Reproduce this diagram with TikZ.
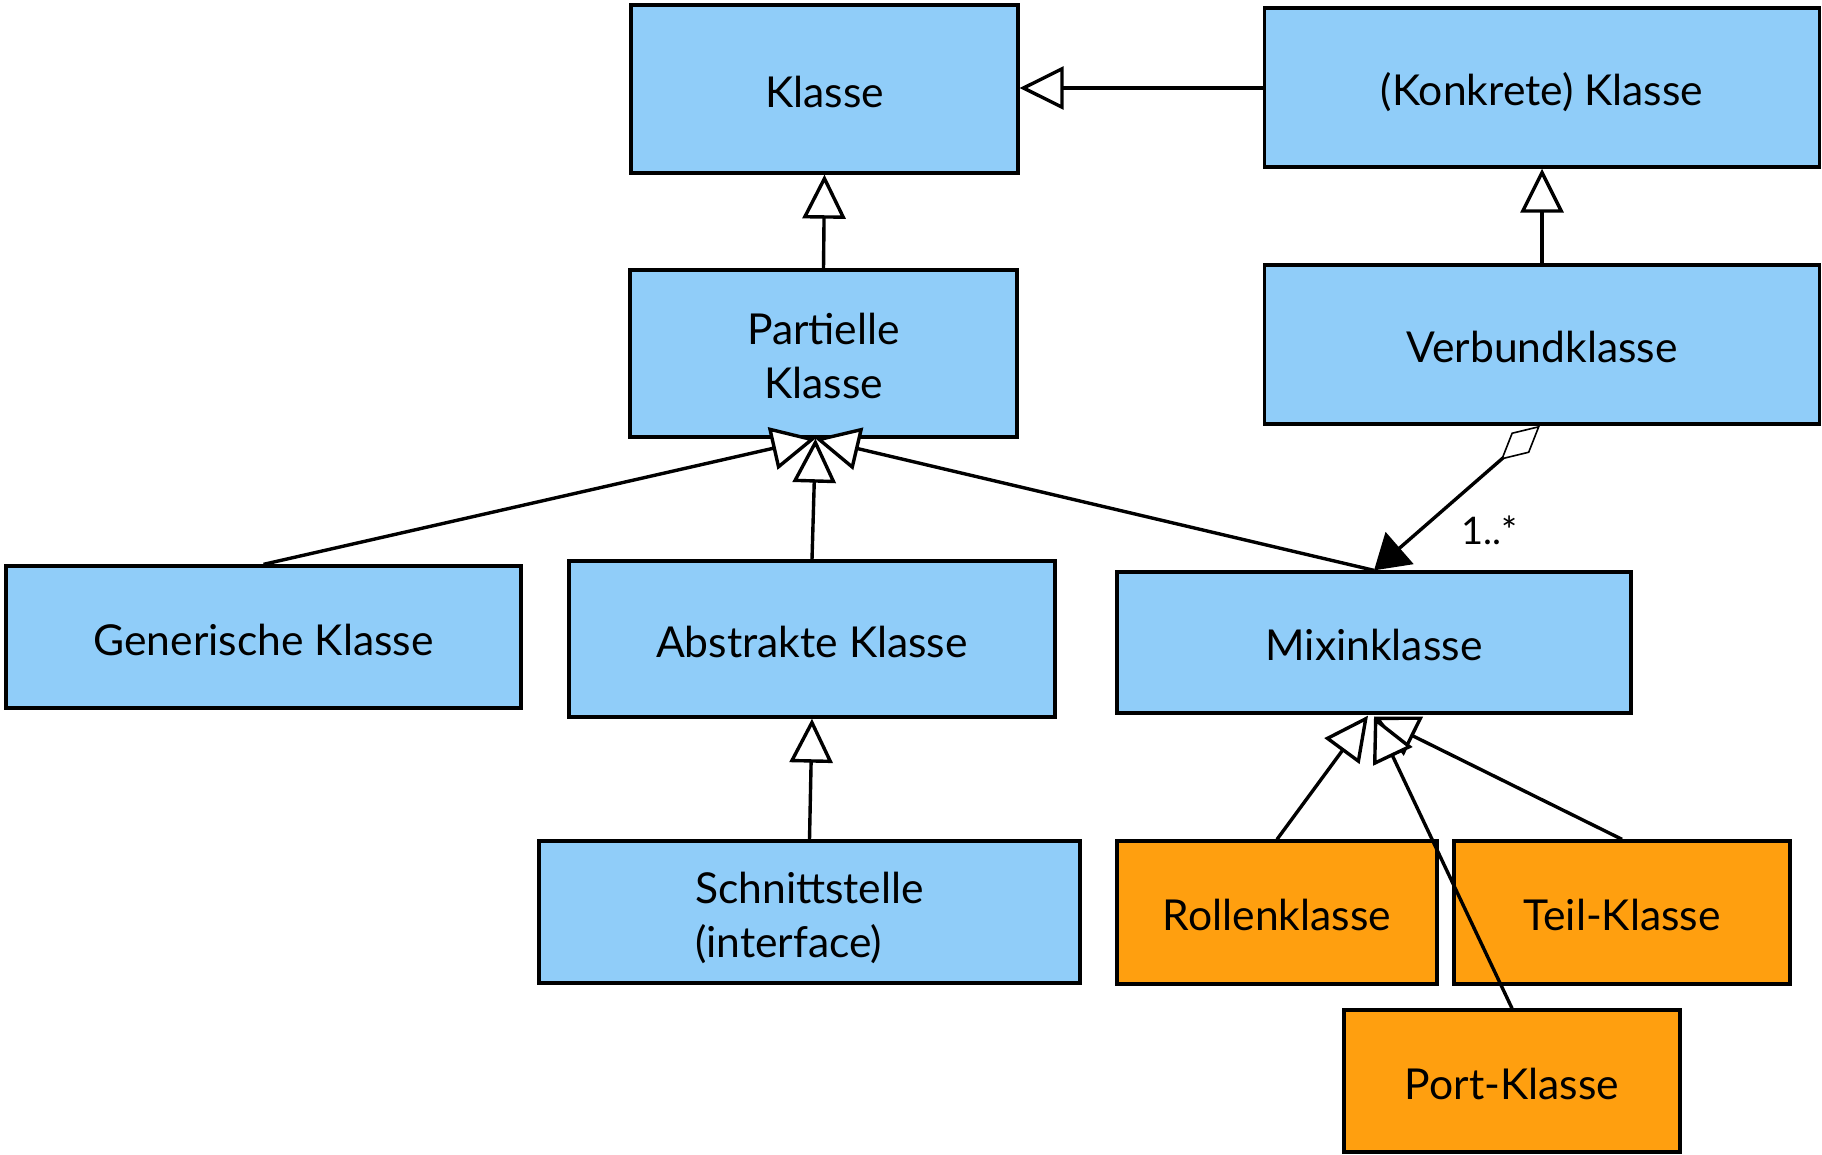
\documentclass[tikz,border=0pt]{standalone}
\usepackage{fontspec}
\setmainfont{Lato}
\usetikzlibrary{arrows.meta}
\definecolor{boxblue}{RGB}{144,205,249}
\definecolor{boxorange}{RGB}{255,159,15}
\begin{document}
\begin{tikzpicture}[x=1pt,y=-1pt,
  cls/.style={draw=black, line width=3.3pt, fill=boxblue, inner sep=0pt,
    font=\fontsize{42.6}{54}\selectfont, align=center,
    text height=36pt, text depth=0pt},
  twoline/.style={text height=90pt, text depth=0pt},
  role/.style={cls, fill=boxorange},
  gen/.style={line width=3.4pt, -{Triangle[length=44pt,width=43pt,fill=white]}},
  comp/.style={line width=3.4pt,
    {Diamond[length=52pt,width=27pt,fill=white,line width=1.6pt]}-{Triangle[length=34pt,width=42pt]}},
  lbl/.style={font=\fontsize{38}{44}\selectfont, inner sep=0pt}
]
\useasboundingbox (0,0) rectangle (1822,1154);

\node[cls, minimum width=387, minimum height=168] (K) at (824.5,89) {Klasse};
\node[cls, minimum width=555, minimum height=159] (KK) at (1542,87.5) {(Konkrete) Klasse};
\node[cls, twoline, minimum width=387, minimum height=167] (P) at (823.5,353.5) {Partielle\\Klasse};
\node[cls, minimum width=555, minimum height=159] (V) at (1542,344.5) {Verbundklasse};
\node[cls, minimum width=515, minimum height=142] (G) at (263.5,637) {Generische Klasse};
\node[cls, minimum width=486, minimum height=156] (A) at (812,639) {Abstrakte Klasse};
\node[cls, minimum width=514, minimum height=141] (M) at (1374,642.5) {Mixinklasse};
\node[cls, twoline, minimum width=541, minimum height=142, align=left] (S) at (809.5,912) {Schnittstelle\\(interface)};
\node[role, minimum width=320, minimum height=143] (R) at (1277,912.5) {Rollenklasse};
\node[role, minimum width=336, minimum height=143] (T) at (1622,912.5) {Teil-Klasse};
\node[role, minimum width=336, minimum height=142] (Po) at (1512,1081) {Port-Klasse};

\coordinate (ptip) at ([xshift=-8pt]P.south);
\coordinate (mtipL) at ([xshift=-6pt,yshift=-1pt]M.south);
\coordinate (mtip) at ([yshift=-2pt]M.south);

\draw[gen] (KK.west |- 0,88) -- (K.east |- 0,88);
\draw[gen] (P.north) -- (K.south);
\draw[gen] (V.north) -- (KK.south);
\draw[gen] (G.north) -- (ptip);
\draw[gen] (M.north) -- (ptip);
\draw[gen] (A.north) -- (ptip);
\draw[gen] (S.north) -- (A.south);
\draw[gen] (R.north) -- (mtipL);
\draw[gen] (T.north) -- (mtip);
\draw[gen] (Po.north) -- (mtip);
\draw[comp] ([xshift=-2pt]V.south) -- (M.north);
\node[lbl] (mult) at (1490,530) {1..*};
\end{tikzpicture}
\end{document}
